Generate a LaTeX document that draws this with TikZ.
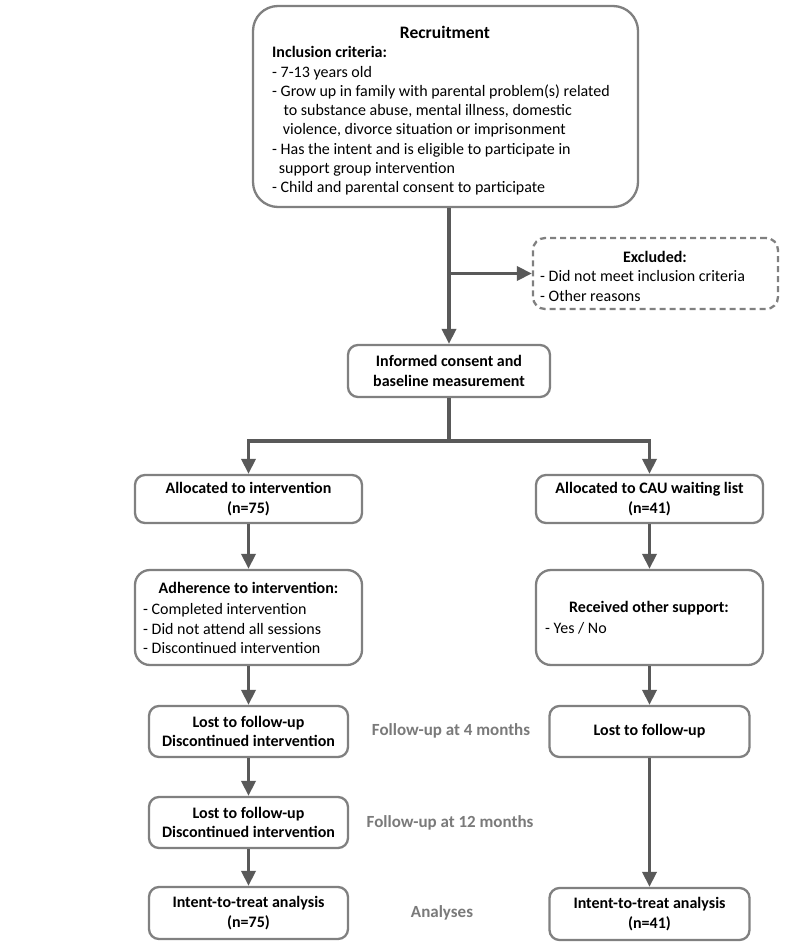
\documentclass[tikz,border=0pt]{standalone}
\usepackage{fontspec}
\setmainfont{Carlito}
\usetikzlibrary{arrows.meta,calc}
\definecolor{boxgray}{HTML}{808080}
\definecolor{arrgray}{HTML}{595959}
\definecolor{labgray}{HTML}{7A7A7A}
\begin{document}
\begin{tikzpicture}[x=1pt,y=-1pt,
  box/.style={draw=boxgray, line width=2.3pt, rounded corners=#1, inner sep=0pt, fill=white},
  box/.default=10pt,
  dbox/.style={box=#1, dash pattern=on 6pt off 4pt},
  conn/.style={draw=arrgray, line width=3.6pt},
  arr/.style={conn, -{Triangle[length=15pt,width=14pt]}},
  txt/.style={font=\fontsize{16}{19.3}\selectfont, inner sep=0pt, align=left},
  btxt/.style={font=\fontsize{16}{19.5}\selectfont\bfseries, inner sep=0pt, align=center},
  lab/.style={font=\fontsize{17}{20}\selectfont\bfseries, text=labgray, inner sep=0pt}]
\useasboundingbox[fill=white] (0,0) rectangle (785,949);

% boxes
\node[box=25pt, minimum width=385pt, minimum height=201pt] (rec) at (445.5,106.5) {};
\node[dbox=12pt, minimum width=245pt, minimum height=71pt] (exc) at (655.5,273.5) {};
\node[box=10pt, minimum width=202pt, minimum height=52pt] (inf) at (449,371) {};
\node[box=10pt, minimum width=227pt, minimum height=48pt] (all1) at (248.5,499) {};
\node[box=10pt, minimum width=227pt, minimum height=48pt] (all2) at (649.5,499) {};
\node[box=15pt, minimum width=227pt, minimum height=95pt] (adh) at (248.5,617.5) {};
\node[box=15pt, minimum width=227pt, minimum height=95pt] (rcv) at (649.5,617.5) {};
\node[box=10pt, minimum width=199pt, minimum height=51pt] (lost1) at (248.5,731.5) {};
\node[box=10pt, minimum width=200pt, minimum height=51pt] (lostR) at (649.5,731.5) {};
\node[box=10pt, minimum width=199pt, minimum height=51pt] (lost2) at (248.5,822.5) {};
\node[box=10pt, minimum width=199pt, minimum height=52pt] (itt1) at (248.5,913) {};
\node[box=10pt, minimum width=200pt, minimum height=52pt] (itt2) at (649.5,914) {};

% texts
\node[btxt, font=\fontsize{17.5}{20}\selectfont\bfseries] (rect) at (445,32) {Recruitment};
\node[txt, anchor=west] (recb) at (272,121) {\textbf{Inclusion criteria:}\\
- 7-13 years old\\
- Grow up in family with parental problem(s) related\\
\hspace*{0.72em}to substance abuse, mental illness, domestic\\
\hspace*{0.67em}violence, divorce situation or imprisonment\\
- Has the intent and is eligible to participate in\\
\hspace*{0.42em}support group intervention\\
- Child and parental consent to participate};
\node[btxt] (exct) at (655,257) {Excluded:};
\node[txt, anchor=west] (excb) at (540,286) {- Did not meet inclusion criteria\\- Other reasons};
\node[btxt] (inft) at (inf) {Informed consent and\\baseline measurement};
\node[btxt] (all1t) at (all1) {Allocated to intervention\\(n=75)};
\node[btxt] (all2t) at (all2) {Allocated to CAU waiting list\\(n=41)};
\node[btxt] (adht) at (248.5,588) {Adherence to intervention:};
\node[txt, anchor=west] (adhb) at (143,628.5) {- Completed intervention\\- Did not attend all sessions\\- Discontinued intervention};
\node[btxt] (rcvt) at (649,608) {Received other support:};
\node[txt, anchor=west] (rcvb) at (545,628) {- Yes / No};
\node[btxt] (lost1t) at (lost1) {Lost to follow-up\\Discontinued intervention};
\node[btxt] (lostRt) at (lostR) {Lost to follow-up};
\node[btxt] (lost2t) at (lost2) {Lost to follow-up\\Discontinued intervention};
\node[btxt] (itt1t) at (itt1) {Intent-to-treat analysis\\(n=75)};
\node[btxt] (itt2t) at (itt2) {Intent-to-treat analysis\\(n=41)};

% side labels
\node[lab] (l4) at (451,731) {Follow-up at 4 months};
\node[lab] (l12) at (450,823) {Follow-up at 12 months};
\node[lab] (lan) at (442,913) {Analyses};

% connectors
\draw[arr] (rec.south -| inf.north) -- (inf.north);
\draw[arr] (inf.north |- exc.west) -- (exc.west);
\path (inf.south) ++(0,43) coordinate (split);
\draw[conn] (inf.south) -- (split);
\draw[arr] (split) -| (all1.north);
\draw[arr] (split) -| (all2.north);
\draw[arr] (all1.south) -- (adh.north);
\draw[arr] (adh.south) -- (lost1.north);
\draw[arr] (lost1.south) -- (lost2.north);
\draw[arr] (lost2.south) -- (itt1.north);
\draw[arr] (all2.south) -- (rcv.north);
\draw[arr] (rcv.south) -- (lostR.north);
\draw[arr] (lostR.south) -- (itt2.north);
\end{tikzpicture}
\end{document}
